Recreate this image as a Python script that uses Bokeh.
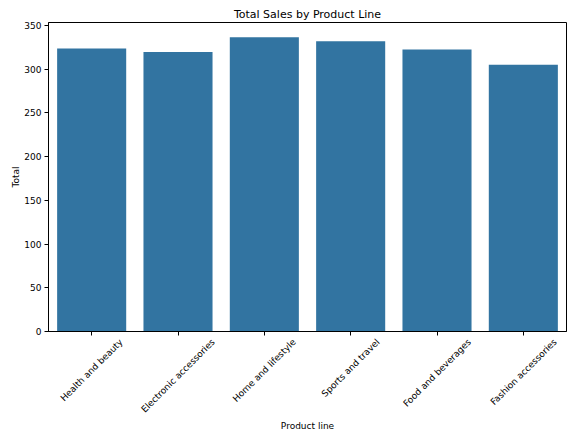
import math
from bokeh.plotting import figure
from bokeh.models import (Range1d, LinearAxis, FixedTicker, CustomJSTickFormatter)
from bokeh.embed import file_html
from bokeh.resources import INLINE

# ---- data ----
categories = ["Health and beauty", "Electronic accessories", "Home and lifestyle",
              "Sports and travel", "Food and beverages", "Fashion accessories"]
totals = [323.64, 319.63, 336.64, 332.07, 322.67, 305.09]
y_ticks = [0, 50, 100, 150, 200, 250, 300, 350]

FONT = "DejaVu Sans"
BAR = "#3274a1"
TICK_FS = 9.0

# approximate DejaVu Sans advance widths (em) used to centre rotated labels like matplotlib
W = {" ": 0.318, "H": 0.752, "E": 0.632, "S": 0.635, "F": 0.575, "a": 0.613, "b": 0.635,
     "c": 0.550, "d": 0.635, "e": 0.615, "f": 0.352, "g": 0.635, "h": 0.634, "i": 0.278,
     "l": 0.278, "m": 0.974, "n": 0.634, "o": 0.612, "p": 0.635, "r": 0.411, "s": 0.521,
     "t": 0.392, "u": 0.634, "v": 0.592, "y": 0.592}

WIDTH, HEIGHT = 573, 440
LEFT, RIGHT, TOP, BOTTOM = 48, 7, 22, 109
n = len(categories)
xpos = list(range(n))  # category index positions

p = figure(x_range=Range1d(-0.5, n - 0.5), y_range=Range1d(0, max(totals) * 1.05),
           width=WIDTH, height=HEIGHT, output_backend="svg", toolbar_location=None,
           min_border_left=LEFT, min_border_right=RIGHT, min_border_top=TOP,
           min_border_bottom=BOTTOM, x_axis_location=None)

p.vbar(x=xpos, top=totals, width=0.8, fill_color=BAR, line_color=None)

p.title.text = "Total Sales by Product Line"
p.title.align = "center"
p.title.text_font = FONT
p.title.text_font_size = "11px"
p.title.text_font_style = "normal"
p.title.text_color = "black"
p.title.standoff = 3

p.xgrid.grid_line_color = None
p.ygrid.grid_line_color = None
p.outline_line_color = "black"
p.outline_line_width = 1
p.background_fill_color = "white"
p.border_fill_color = "white"

# y axis
ya = p.yaxis[0]
ya.ticker = FixedTicker(ticks=y_ticks)
ya.axis_label = "Total"
ya.axis_label_text_font = FONT
ya.axis_label_text_font_size = "9px"
ya.axis_label_text_font_style = "normal"
ya.axis_label_text_color = "black"
ya.axis_label_standoff = 0
ya.major_label_text_font = FONT
ya.major_label_text_font_size = "9px"
ya.major_label_text_color = "black"
ya.major_label_standoff = 3
ya.major_tick_out = 4
ya.major_tick_in = 0
ya.minor_tick_out = 0
ya.minor_tick_in = 0
ya.axis_line_color = "black"
ya.major_tick_line_color = "black"

# x axis with tick marks only
xa = LinearAxis(ticker=FixedTicker(ticks=xpos),
                formatter=CustomJSTickFormatter(code="return '';"),
                major_label_standoff=0, major_label_text_font_size="1px",
                major_tick_out=4, major_tick_in=0, minor_tick_out=0, minor_tick_in=0,
                axis_line_color="black", major_tick_line_color="black")
p.add_layout(xa, "below")

# label axis: rotated labels centred under each tick (matplotlib style)
frame_w = WIDTH - LEFT - RIGHT
px_per_cat = frame_w / n
label_pos = []
for i, c in enumerate(categories):
    w_px = sum(W.get(ch, 0.6) for ch in c) * TICK_FS
    label_pos.append(xpos[i] + (w_px * math.cos(math.pi / 4) / 2) / px_per_cat)

la = LinearAxis(ticker=FixedTicker(ticks=label_pos),
                formatter=CustomJSTickFormatter(args=dict(names=categories),
                                                code="return names[index];"),
                major_label_orientation=math.pi / 4,
                major_label_text_font=FONT,
                major_label_text_font_size="9px",
                major_label_text_color="black",
                major_label_standoff=5,
                major_tick_out=0, major_tick_in=0,
                minor_tick_out=0, minor_tick_in=0,
                axis_line_color=None,
                axis_label="Product line",
                axis_label_text_font=FONT,
                axis_label_text_font_size="9px",
                axis_label_text_font_style="normal",
                axis_label_text_color="black",
                axis_label_standoff=0)
p.add_layout(la, "below")

open("out.html", "w").write(file_html(p, INLINE))
